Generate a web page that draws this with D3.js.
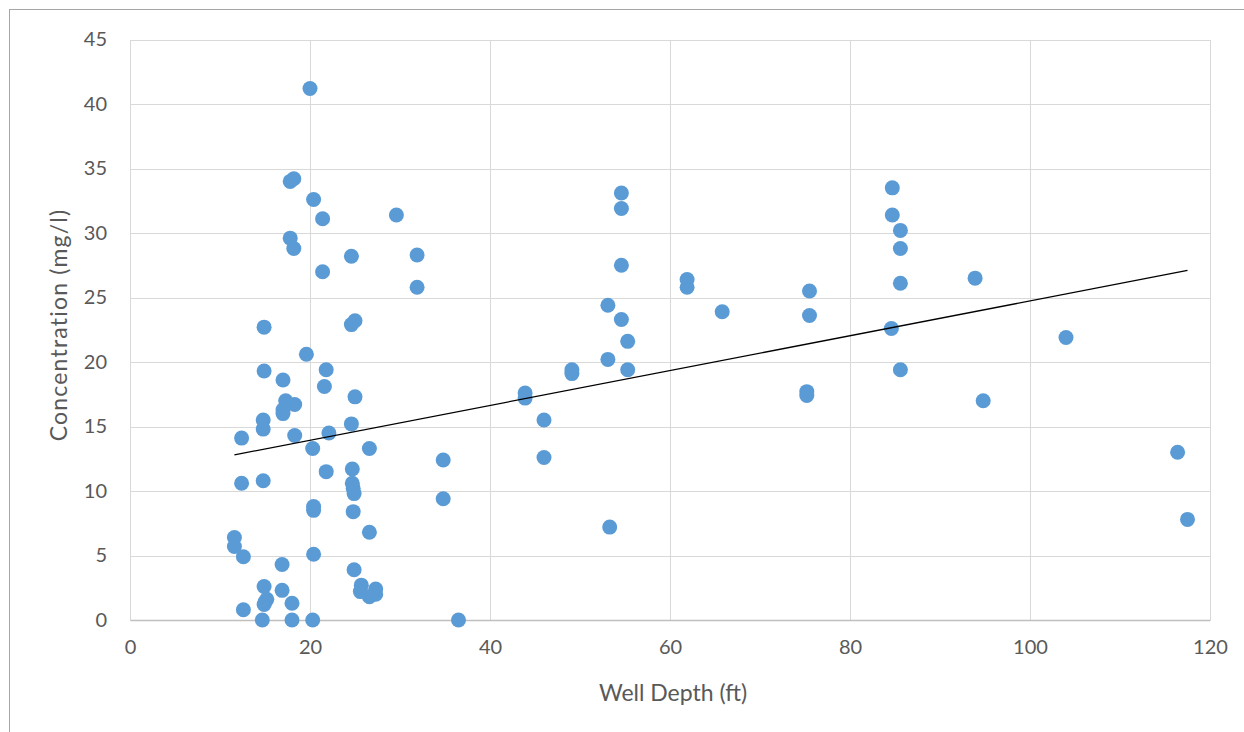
<!DOCTYPE html>
<html>
<head>
<meta charset="utf-8">
<script src="https://cdn.jsdelivr.net/npm/d3@7"></script>
<style>
  html, body { margin: 0; padding: 0; background: #fff; }
  svg { display: block; }
</style>
</head>
<body>
<svg id="chart" width="1244" height="732"></svg>
<script>
// well depth (ft) and concentration (mg/l)
const depth = [
    20.0, 17.8, 18.2, 20.4, 21.4, 29.6, 17.8, 18.2, 24.6, 31.9,
    21.4, 31.9, 14.9, 24.6, 25.0, 19.6, 14.9, 21.8, 17.0, 21.6,
    25.0, 17.3, 18.3, 17.0, 17.0, 14.8, 14.8, 24.6, 12.4, 18.3,
    22.1, 20.3, 26.6, 34.8, 24.7, 21.8, 12.4, 14.8, 24.7, 24.8,
    24.9, 34.8, 20.4, 20.4, 24.8, 26.6, 11.6, 11.6, 12.6, 20.4,
    16.9, 24.9, 14.9, 16.9, 15.2, 15.0, 14.9, 18.0, 25.7, 27.3,
    25.6, 26.6, 27.3, 12.6, 14.7, 18.0, 20.3, 36.5, 54.6, 54.6,
    54.6, 53.1, 54.6, 55.3, 53.1, 55.3, 49.1, 49.1, 43.9, 43.9,
    46.0, 46.0, 53.3, 61.9, 61.9, 65.8, 75.5, 75.5, 75.2, 75.2,
    84.7, 84.7, 85.6, 85.6, 85.6, 84.6, 85.6, 93.9, 94.8, 104.0,
    116.4, 117.5
];
const concentration = [
    41.2, 34.0, 34.2, 32.6, 31.1, 31.4, 29.6, 28.8, 28.2, 28.3,
    27.0, 25.8, 22.7, 22.9, 23.2, 20.6, 19.3, 19.4, 18.6, 18.1,
    17.3, 17.0, 16.7, 16.3, 16.0, 15.5, 14.8, 15.2, 14.1, 14.3,
    14.5, 13.3, 13.3, 12.4, 11.7, 11.5, 10.6, 10.8, 10.6, 10.2,
    9.8, 9.4, 8.8, 8.5, 8.4, 6.8, 6.4, 5.7, 4.9, 5.1,
    4.3, 3.9, 2.6, 2.3, 1.6, 1.4, 1.2, 1.3, 2.7, 2.4,
    2.2, 1.8, 2.0, 0.8, 0, 0, 0, 0, 33.1, 31.9,
    27.5, 24.4, 23.3, 21.6, 20.2, 19.4, 19.4, 19.1, 17.6, 17.2,
    15.5, 12.6, 7.2, 26.4, 25.8, 23.9, 25.5, 23.6, 17.7, 17.4,
    33.5, 31.4, 30.2, 28.8, 26.1, 22.6, 19.4, 26.5, 17.0, 21.9,
    13.0, 7.8
];

// linear trendline end points
const trendDepth = [11.6, 117.5];
const trendConc = [12.8, 27.1];

const xTicks = [0, 20, 40, 60, 80, 100, 120];
const yTicks = [0, 5, 10, 15, 20, 25, 30, 35, 40, 45];

const width = 1244, height = 732;
const margin = { top: 39.5, right: 34, bottom: 112, left: 130 };
const font = "Lato, 'Open Sans', sans-serif";
const textColor = "#595959";

const svg = d3.select("#chart");

// chart frame (runs off the right and bottom edge)
svg.append("rect")
    .attr("x", 9.5).attr("y", 9.5)
    .attr("width", width + 20).attr("height", height + 20)
    .attr("fill", "#fff")
    .attr("stroke", "#a6a6a6");

const x = d3.scaleLinear()
    .domain([0, 120])
    .range([margin.left, width - margin.right]);

const y = d3.scaleLinear()
    .domain([0, 45])
    .range([height - margin.bottom, margin.top]);

// grid
const grid = svg.append("g")
    .attr("stroke", "#d9d9d9")
    .attr("stroke-width", 1.3)
    .attr("shape-rendering", "crispEdges");

grid.selectAll("line.h")
    .data(yTicks)
    .join("line")
    .attr("class", "h")
    .attr("x1", x(0)).attr("x2", x(120))
    .attr("y1", d => Math.round(y(d)) + 0.5)
    .attr("y2", d => Math.round(y(d)) + 0.5);

grid.selectAll("line.v")
    .data(xTicks)
    .join("line")
    .attr("class", "v")
    .attr("y1", y(0)).attr("y2", y(45))
    .attr("x1", d => Math.round(x(d)) + 0.5)
    .attr("x2", d => Math.round(x(d)) + 0.5);

// x axis
svg.append("g")
    .attr("transform", `translate(0,${y(0)})`)
    .call(d3.axisBottom(x).tickValues(xTicks).tickSize(0).tickPadding(20))
    .call(g => g.select(".domain").attr("stroke", "#bfbfbf").attr("stroke-width", 1.3))
    .call(g => g.selectAll("text")
        .attr("font-family", font)
        .attr("font-size", 20)
        .attr("fill", textColor));

// y axis
svg.append("g")
    .attr("transform", `translate(${margin.left},0)`)
    .call(d3.axisLeft(y).tickValues(yTicks).tickSize(0).tickPadding(23))
    .call(g => g.select(".domain").remove())
    .call(g => g.selectAll("text")
        .attr("font-family", font)
        .attr("font-size", 20)
        .attr("fill", textColor));

// axis titles
svg.append("text")
    .attr("x", 673)
    .attr("y", 701)
    .attr("text-anchor", "middle")
    .attr("font-family", font)
    .attr("font-size", 23)
    .attr("fill", textColor)
    .text("Well Depth (ft)");

svg.append("text")
    .attr("transform", "translate(67,325) rotate(-90)")
    .attr("text-anchor", "middle")
    .attr("font-family", font)
    .attr("font-size", 23)
    .attr("letter-spacing", 1.2)
    .attr("fill", textColor)
    .text("Concentration (mg/l)");

// points
svg.append("g")
    .selectAll("circle")
    .data(depth)
    .join("circle")
    .attr("cx", d => x(d))
    .attr("cy", (d, i) => y(concentration[i]))
    .attr("r", 7.5)
    .attr("fill", "#5b9bd5");

// trendline
const line = d3.line()
    .x(d => x(d))
    .y((d, i) => y(trendConc[i]));

svg.append("path")
    .attr("d", line(trendDepth))
    .attr("fill", "none")
    .attr("stroke", "#000")
    .attr("stroke-width", 1.3);
</script>
</body>
</html>
